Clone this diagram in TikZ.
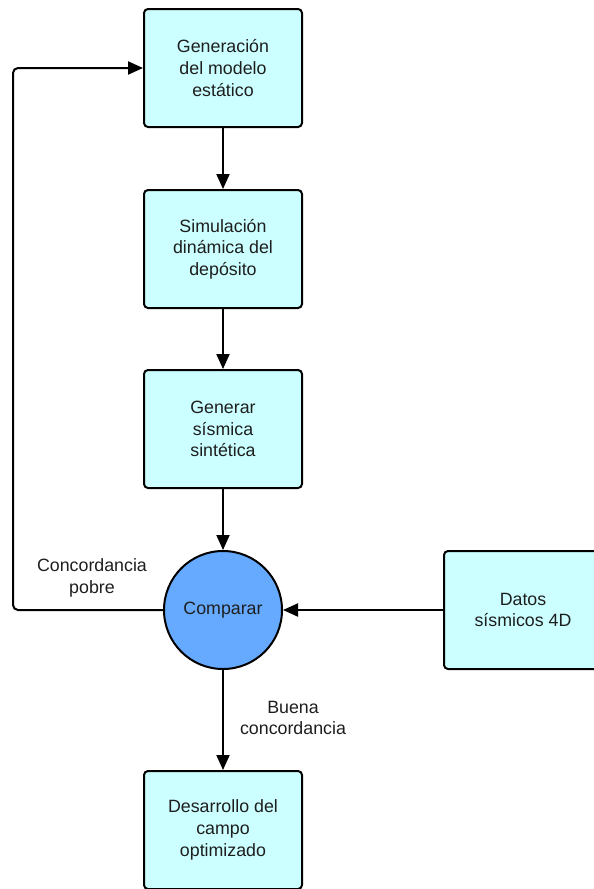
\documentclass[tikz,border=0pt]{standalone}
\usepackage{xcolor}
\usepackage{fontspec}
\setmainfont{Liberation Sans}
\usepackage{tikz}
\usetikzlibrary{arrows.meta}
\definecolor{cajacian}{HTML}{CCFFFF}
\definecolor{circazul}{HTML}{66AAFF}
\definecolor{tinta}{HTML}{1E1E1E}
\tikzset{
	paso/.style={draw=black,line width=2pt,rounded corners=4pt,fill=cajacian,
		minimum width=158pt,minimum height=118pt,inner sep=0pt,align=center,
		text=tinta,font=\fontsize{17.8}{21.7}\selectfont},
	comp/.style={draw=black,line width=2pt,circle,fill=circazul,minimum size=118pt,
		inner sep=0pt,text=tinta,font=\fontsize{17.8}{21.7}\selectfont},
	nota/.style={align=center,text=tinta,font=\fontsize{17.8}{21.7}\selectfont},
	flecha/.style={->,line width=2pt}
}

\begin{document}
\begin{tikzpicture}[>={Triangle[length=15pt,width=13pt]},x=1pt,y=-1pt]
	\useasboundingbox (0,0) rectangle (594,889);
	\node[paso] (modelo) at (223,68) {Generación\\del modelo\\estático};
	\node[paso] (simul) at (223,249) {Simulación\\dinámica del\\depósito};
	\node[paso] (sintetica) at (223,429) {Generar\\sísmica\\sintética};
	\node[comp] (comparar) at (223,610) {Comparar};
	\node[paso] (datos) at (523,610) {Datos\\sísmicos 4D};
	\node[paso] (campo) at (223,830) {Desarrollo del\\campo\\optimizado};
	\node[nota] (pobre) at (92,578) {Concordancia\\pobre};
	\node[nota] (buena) at (293,718) {Buena\\concordancia};
	\coordinate (vuelta) at (13,68);
	% flujo principal
	\draw[flecha] (modelo) -- (simul);
	\draw[flecha] (simul) -- (sintetica);
	\draw[flecha] (sintetica) -- (comparar);
	\draw[flecha] (datos) -- (comparar);
	\draw[flecha] (comparar) -- (campo);
	% lazo de vuelta
	\draw[flecha,rounded corners=5pt] (comparar.west) -| (vuelta) -- (modelo.west);
\end{tikzpicture}
\end{document}
